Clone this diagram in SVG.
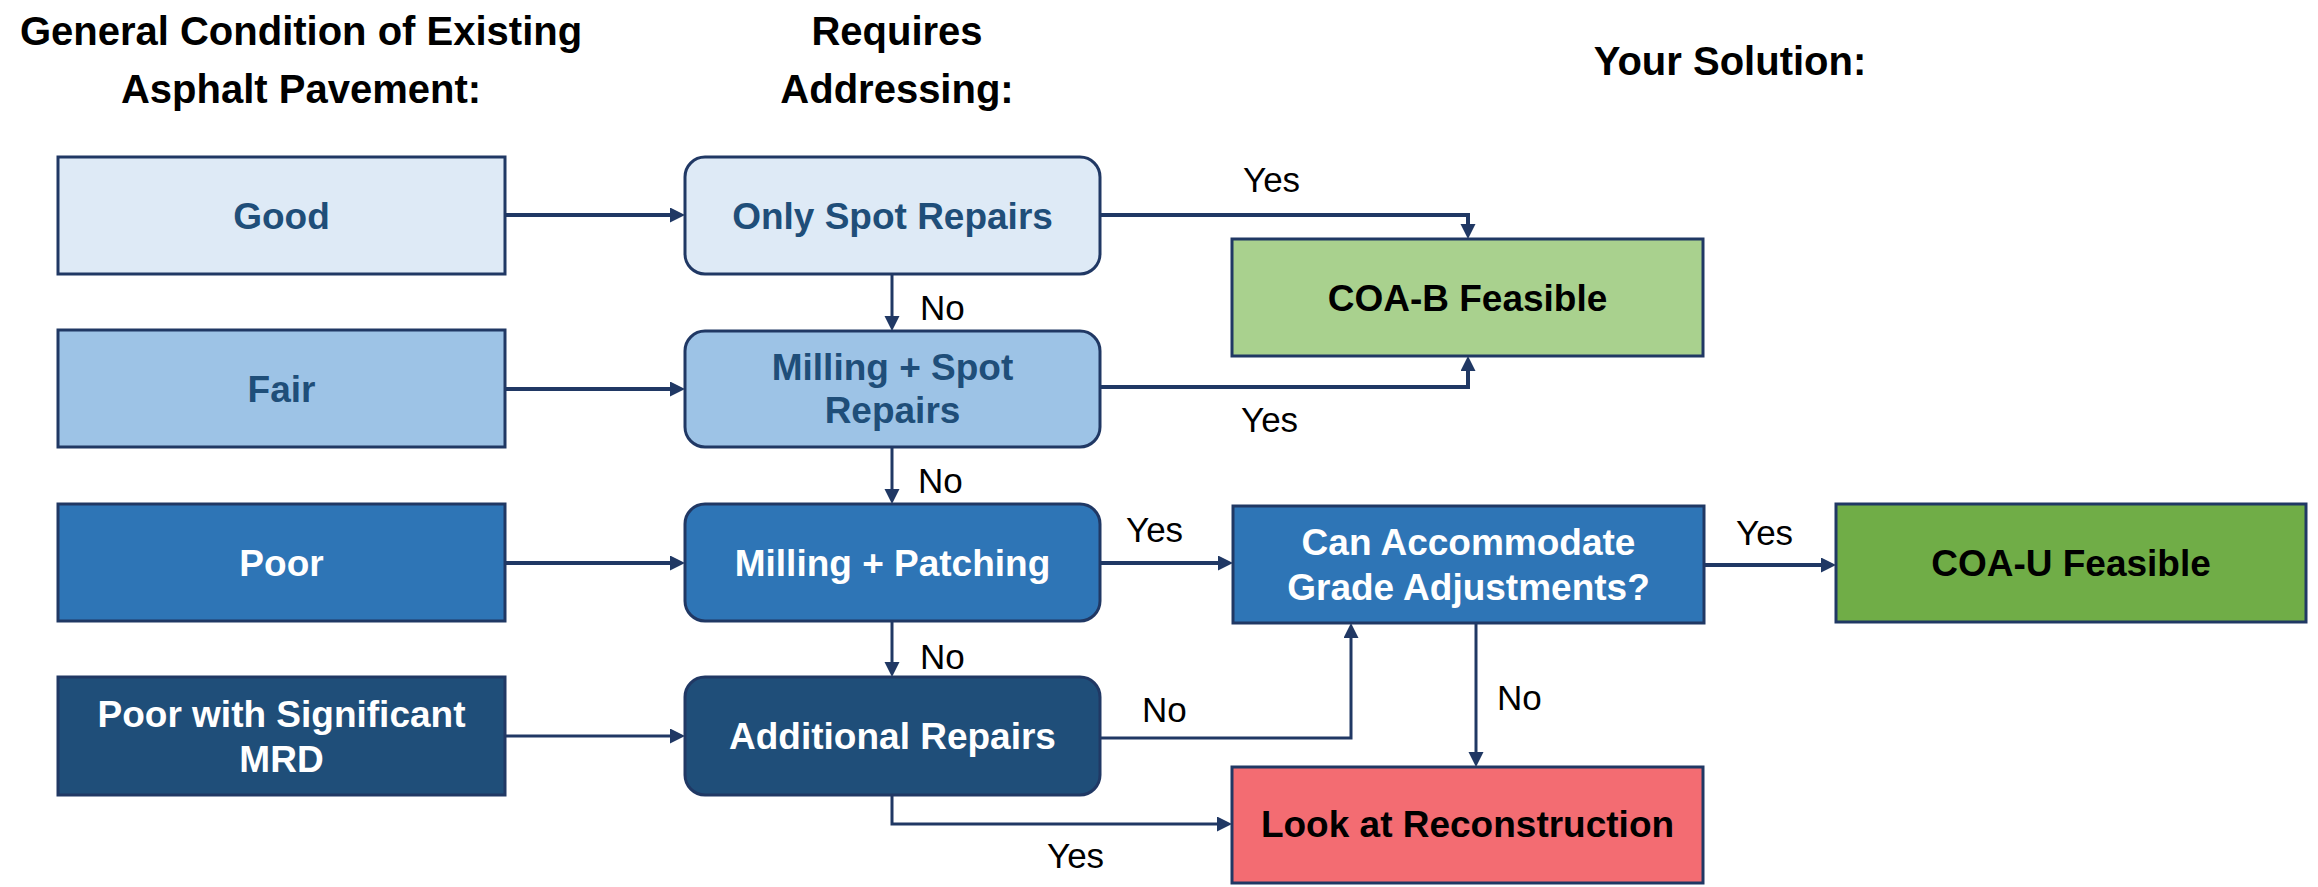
<svg xmlns="http://www.w3.org/2000/svg" width="2318" height="887" viewBox="0 0 2318 887">
<style>
.title{font-family:"Liberation Sans",Arial,sans-serif;font-weight:bold;font-size:40px;fill:#000;text-anchor:middle}
.nt{font-family:"Liberation Sans",Arial,sans-serif;font-weight:bold;font-size:37px;text-anchor:middle}
.dk{fill:#1F4E79}
.wh{fill:#FFFFFF}
.bk{fill:#000000}
.lbl{font-family:"Liberation Sans",Arial,sans-serif;font-size:35px;fill:#000}
.box{stroke:#203864;stroke-width:3}
.c4{fill:none;stroke:#203864;stroke-width:4}
.c3{fill:none;stroke:#203864;stroke-width:3}
</style>
<defs>
<marker id="ah" markerUnits="userSpaceOnUse" markerWidth="16" markerHeight="16" viewBox="0 0 16 16" refX="7" refY="7.5" orient="auto">
<path d="M0,0 L15,7.5 L0,15 Z" fill="#203864"/>
</marker>
</defs>
<g id="titles">
<text class="title" x="301" y="45">General Condition of Existing</text>
<text class="title" x="301" y="103">Asphalt Pavement:</text>
<text class="title" x="897" y="45">Requires</text>
<text class="title" x="897" y="103">Addressing:</text>
<text class="title" x="1730" y="75">Your Solution:</text>
</g>
<g id="connectors">
<path class="c4" d="M505,215 H677" marker-end="url(#ah)"/>
<path class="c4" d="M505,389 H677" marker-end="url(#ah)"/>
<path class="c4" d="M505,563 H677" marker-end="url(#ah)"/>
<path class="c3" d="M505,736 H677" marker-end="url(#ah)"/>
<path class="c3" d="M892,274 V323" marker-end="url(#ah)"/>
<path class="c3" d="M892,447 V496" marker-end="url(#ah)"/>
<path class="c3" d="M892,621 V669" marker-end="url(#ah)"/>
<path class="c4" d="M1100,215 H1468 V231" marker-end="url(#ah)"/>
<path class="c4" d="M1100,387 H1468 V364" marker-end="url(#ah)"/>
<path class="c4" d="M1100,563 H1225" marker-end="url(#ah)"/>
<path class="c3" d="M1100,738 H1351 V631" marker-end="url(#ah)"/>
<path class="c4" d="M1704,565 H1828" marker-end="url(#ah)"/>
<path class="c3" d="M1476,623 V759" marker-end="url(#ah)"/>
<path class="c3" d="M892,795 V824 H1224" marker-end="url(#ah)"/>
<text class="lbl" x="1243" y="192">Yes</text>
<text class="lbl" x="1241" y="432">Yes</text>
<text class="lbl" x="920" y="320">No</text>
<text class="lbl" x="918" y="493">No</text>
<text class="lbl" x="920" y="669">No</text>
<text class="lbl" x="1126" y="542">Yes</text>
<text class="lbl" x="1142" y="722">No</text>
<text class="lbl" x="1736" y="545">Yes</text>
<text class="lbl" x="1497" y="710">No</text>
<text class="lbl" x="1047" y="868">Yes</text>
</g>
<g id="good">
<rect class="box" x="58" y="157" width="447" height="117" fill="#DEEAF6"/>
<text class="nt dk" x="281.5" y="229">Good</text>
</g>
<g id="fair">
<rect class="box" x="58" y="330" width="447" height="117" fill="#9DC3E6"/>
<text class="nt dk" x="281.5" y="402">Fair</text>
</g>
<g id="poor">
<rect class="box" x="58" y="504" width="447" height="117" fill="#2E75B6"/>
<text class="nt wh" x="281.5" y="576">Poor</text>
</g>
<g id="poor-mrd">
<rect class="box" x="58" y="677" width="447" height="118" fill="#1F4E79"/>
<text class="nt wh" x="281.5" y="727">Poor with Significant</text>
<text class="nt wh" x="281.5" y="772">MRD</text>
</g>
<g id="only-spot">
<rect class="box" x="685" y="157" width="415" height="117" rx="20" fill="#DEEAF6"/>
<text class="nt dk" x="892.5" y="229">Only Spot Repairs</text>
</g>
<g id="milling-spot">
<rect class="box" x="685" y="331" width="415" height="116" rx="20" fill="#9DC3E6"/>
<text class="nt dk" x="892.5" y="380">Milling + Spot</text>
<text class="nt dk" x="892.5" y="423">Repairs</text>
</g>
<g id="milling-patching">
<rect class="box" x="685" y="504" width="415" height="117" rx="20" fill="#2E75B6"/>
<text class="nt wh" x="892.5" y="576">Milling + Patching</text>
</g>
<g id="additional">
<rect class="box" x="685" y="677" width="415" height="118" rx="20" fill="#1F4E79"/>
<text class="nt wh" x="892.5" y="749">Additional Repairs</text>
</g>
<g id="coa-b">
<rect class="box" x="1232" y="239" width="471" height="117" fill="#A9D18E"/>
<text class="nt bk" x="1467.5" y="311">COA-B Feasible</text>
</g>
<g id="can-accommodate">
<rect class="box" x="1233" y="506" width="471" height="117" fill="#2E75B6"/>
<text class="nt wh" x="1468.5" y="555">Can Accommodate</text>
<text class="nt wh" x="1468.5" y="600">Grade Adjustments?</text>
</g>
<g id="coa-u">
<rect class="box" x="1836" y="504" width="470" height="118" fill="#70AD47"/>
<text class="nt bk" x="2071" y="576">COA-U Feasible</text>
</g>
<g id="reconstruction">
<rect class="box" x="1232" y="767" width="471" height="116" fill="#F36C72"/>
<text class="nt bk" x="1467.5" y="837">Look at Reconstruction</text>
</g>
</svg>
